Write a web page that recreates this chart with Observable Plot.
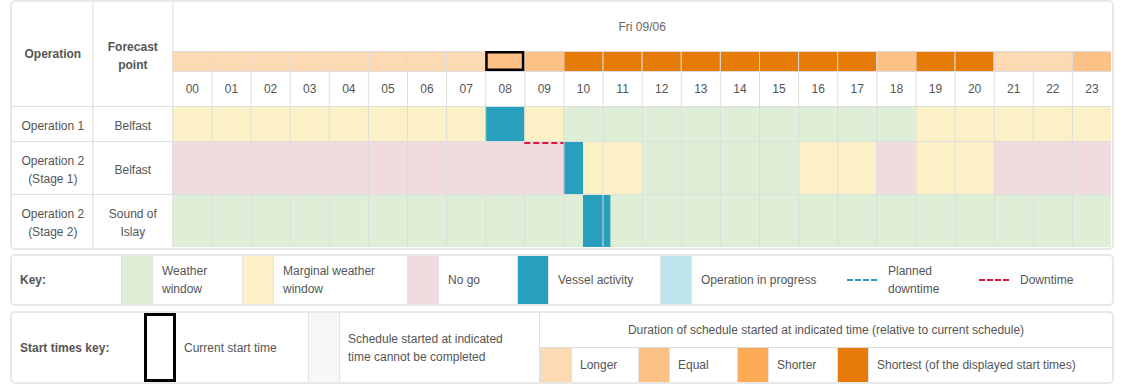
<!DOCTYPE html>
<html><head><meta charset="utf-8">
<script src="https://cdn.jsdelivr.net/npm/d3@7"></script>
<script src="https://cdn.jsdelivr.net/npm/@observablehq/plot@0.6"></script>
<style>
body{margin:0;background:#fff;font-family:"Liberation Sans",Arial,sans-serif;font-size:12px;color:#555;}
#wrap{position:relative;width:1123px;height:384px;overflow:hidden;}
.box{position:absolute;left:10px;width:1104px;box-sizing:border-box;border:2px solid #e8e8e8;border-radius:5px;overflow:hidden;background:#fff;}
.abs{position:absolute;box-sizing:border-box;}
.txt{display:flex;align-items:center;white-space:pre-line;line-height:18px;}
.sw{border-left:1px solid #e2e2e2;border-right:1px solid #e2e2e2;}
</style></head><body><div id="wrap"></div>
<script>
// ---------------- DATA ----------------
const dayLabel = "Fri 09/06";
const hourLabels = ["00","01","02","03","04","05","06","07","08","09","10","11",
                    "12","13","14","15","16","17","18","19","20","21","22","23"];
const operations = ["Operation 1", "Operation 2\n(Stage 1)", "Operation 2\n(Stage 2)"];
const forecastPoints = ["Belfast", "Belfast", "Sound of\nIslay"];
// W = weather window, M = marginal weather window, N = no go (one letter per hour)
const op1Conditions = "MMMMMMMMMMWWWWWWWWWMMMMM".split("");
const op2Stage1Conditions = "NNNNNNNNNNMMWWWWMMNMMNNN".split("");
const op2Stage2Conditions = "WWWWWWWWWWWWWWWWWWWWWWWW".split("");
const vesselActivity = [
  {row: 0, start: 8, end: 9},
  {row: 1, start: 10, end: 10.5},
  {row: 2, start: 10.5, end: 11.2}
];
const downtime = [{row: 1, start: 9, end: 10}];
const startDurations = ["Longer","Longer","Longer","Longer","Longer","Longer","Longer","Longer",
  "Equal","Equal","Shortest","Shortest","Shortest","Shortest","Shortest","Shortest","Shortest","Shortest",
  "Equal","Shortest","Shortest","Longer","Longer","Equal"];
const currentStartHour = 8;

// legend / colour keys
const conditionCodes = {W: "Weather window", M: "Marginal weather window", N: "No go"};
const keyLabels = ["Weather\nwindow", "Marginal weather\nwindow", "No go", "Vessel activity", "Operation in progress"];
const keyNames = ["Weather window", "Marginal weather window", "No go", "Vessel activity", "Operation in progress"];
const keyColors = ["#deeed7", "#fcf0c7", "#f0dcde", "#279fbd", "#bde6ef"];
const lineKeyLabels = ["Planned\ndowntime", "Downtime"];
const lineKeyColors = ["#279fbd", "#dc143c"];
const durationNames = ["Longer", "Equal", "Shorter", "Shortest"];
const durationLabels = ["Longer", "Equal", "Shorter", "Shortest (of the displayed start times)"];
const durationColors = ["#fdd9b4", "#fdc185", "#fdab56", "#e77b08"];
const cannotCompleteColor = "#f7f7f7";
const startKeyTexts = ["Current start time", "Schedule started at indicated\ntime cannot be completed"];
const durationTitle = "Duration of schedule started at indicated time (relative to current schedule)";

// ---------------- LAYOUT ----------------
const gridColor = "#dddddd", textColor = "#555";
const dateRowH = 49, bandH = 20, hourRowH = 35, linePad = 17, lineH = 18, labelColW = 80;
const yBandTop = dateRowH, yBandBot = yBandTop + bandH, yHeadBot = yBandBot + hourRowH;
const rowTops = [], rowBots = [];
let acc = yHeadBot;
operations.forEach((op, i) => {
  const n = Math.max(op.split("\n").length, forecastPoints[i].split("\n").length);
  rowTops.push(acc); acc += linePad + lineH * n; rowBots.push(acc);
});
const totalH = acc;
const conditionRows = [op1Conditions, op2Stage1Conditions, op2Stage2Conditions];
const cells = conditionRows.flatMap((codes, r) => codes.map((c, h) => ({r, h, cond: conditionCodes[c]})));
const band = startDurations.map((k, h) => ({h, k}));

const wrap = document.getElementById("wrap");
const mainBox = document.createElement("div");
mainBox.className = "box"; mainBox.style.top = "0px"; mainBox.style.height = "250px";
wrap.appendChild(mainBox);

const txt = {fontSize: 12, fill: textColor};
const chart = Plot.plot({
  width: 1123, height: 250,
  marginLeft: 12, marginRight: 12, marginTop: 2, marginBottom: 3,
  style: {fontFamily: '"Liberation Sans", Arial, sans-serif', fontSize: "12px", background: "transparent", color: textColor, maxWidth: "none"},
  x: {domain: [0, 24], range: [172.3, 1111], axis: null},
  y: {domain: [0, totalH], range: [2, 2 + totalH], axis: null},
  color: {type: "ordinal", domain: [...keyNames, ...durationNames], range: [...keyColors, ...durationColors]},
  marks: [
    Plot.rect(cells, {x1: "h", x2: d => d.h + 1, y1: d => rowTops[d.r], y2: d => rowBots[d.r], fill: "cond"}),
    Plot.rect(band, {x1: "h", x2: d => d.h + 1, y1: () => yBandTop, y2: () => yBandBot, fill: "k"}),
    Plot.rect(vesselActivity, {x1: "start", x2: "end", y1: d => rowTops[d.row], y2: d => rowBots[d.row], fill: () => "Vessel activity"}),
    // grid
    Plot.ruleX(d3.range(1, 24), {y1: () => yBandTop, y2: () => totalH, stroke: gridColor}),
    Plot.ruleX([0], {y1: () => 0, y2: () => totalH, stroke: gridColor}),
    Plot.ruleX([0], {y1: () => 0, y2: () => totalH, stroke: gridColor, dx: -labelColW}),
    Plot.ruleY([yBandTop, yBandBot], {x1: () => 0, x2: () => 24, stroke: gridColor}),
    Plot.ruleY([yHeadBot, ...rowBots.slice(0, -1)], {stroke: gridColor}),
    // current start time
    Plot.rect([currentStartHour], {x1: d => d, x2: d => d + 1, y1: () => yBandTop, y2: () => yBandBot, fill: "none", stroke: "black", strokeWidth: 2.5, inset: 1.25}),
    // downtime
    Plot.ruleY(downtime, {x1: "start", x2: "end", y: d => rowTops[d.row] + 1.5, stroke: lineKeyColors[1], strokeWidth: 2, strokeDasharray: "6,3"}),
    // texts
    Plot.text([dayLabel], {x: () => 12, y: () => dateRowH / 2, ...txt, fill: "#666"}),
    Plot.text(hourLabels, {x: (d, i) => i + 0.5, y: () => yBandBot + hourRowH / 2, ...txt}),
    Plot.text(["Operation"], {x: () => 0, y: () => yHeadBot / 2, dx: -labelColW * 1.5, ...txt, fontWeight: "bold"}),
    Plot.text(["Forecast\npoint"], {x: () => 0, y: () => yHeadBot / 2, dx: -labelColW / 2, ...txt, fontWeight: "bold", lineHeight: 1.45}),
    Plot.text(operations, {x: () => 0, y: (d, i) => (rowTops[i] + rowBots[i]) / 2, dx: -labelColW * 1.5, ...txt, lineHeight: 1.5}),
    Plot.text(forecastPoints, {x: () => 0, y: (d, i) => (rowTops[i] + rowBots[i]) / 2, dx: -labelColW / 2, ...txt, lineHeight: 1.5})
  ]
});
chart.style.position = "absolute"; chart.style.left = "-12px"; chart.style.top = "-2px";
chart.style.maxWidth = "none"; chart.style.width = "1123px"; chart.style.height = "250px";
mainBox.appendChild(chart);

// ---------------- LEGENDS (HTML) ----------------
function makeBox(top, height) {
  const b = document.createElement("div");
  b.className = "box"; b.style.top = top + "px"; b.style.height = height + "px";
  b._top = top; wrap.appendChild(b); return b;
}
function put(box, cls, x, y, w, h, css = {}, text = "") {
  const e = document.createElement("div");
  e.className = "abs " + cls;
  e.style.left = (x - 12) + "px"; e.style.top = (y - box._top - 2) + "px";
  e.style.width = w + "px"; e.style.height = h + "px";
  Object.assign(e.style, css);
  if (text) e.textContent = text;
  box.appendChild(e); return e;
}
// Key box
const keyBox = makeBox(254, 52);
const kTop = 256, kH = 48;
put(keyBox, "txt", 20, kTop, 90, kH, {fontWeight: "bold"}, "Key:");
const keySwatchX = [121, 242, 407, 517, 660];
keyNames.forEach((n, i) => {
  put(keyBox, "sw", keySwatchX[i], kTop, 32, kH, {background: keyColors[i]});
  put(keyBox, "txt", keySwatchX[i] + 41, kTop, 130, kH, {}, keyLabels[i]);
});
const lineKeyX = [847, 979];
lineKeyLabels.forEach((l, i) => {
  put(keyBox, "", lineKeyX[i], kTop + 23, 30, 2, {borderTop: "2px dashed " + lineKeyColors[i]});
  put(keyBox, "txt", lineKeyX[i] + 41, kTop, 90, kH, {}, l);
});
// Start times key box
const sBox = makeBox(311, 73);
const sTop = 313, sH = 69;
put(sBox, "txt", 20, sTop, 120, sH, {fontWeight: "bold"}, "Start times key:");
put(sBox, "", 143.5, sTop, 32, sH, {border: "3px solid #000"});
put(sBox, "txt", 184, sTop, 120, sH, {}, startKeyTexts[0]);
put(sBox, "sw", 308, sTop, 32, sH, {background: cannotCompleteColor});
put(sBox, "txt", 348, sTop, 190, sH, {}, startKeyTexts[1]);
put(sBox, "", 539, sTop, 1, sH, {background: gridColor});
put(sBox, "txt", 540, sTop, 572, 34, {justifyContent: "center"}, durationTitle);
put(sBox, "", 540, sTop + 34, 572, 1, {background: gridColor});
const durSwatchX = [540, 638, 737, 837];
durationNames.forEach((n, i) => {
  put(sBox, "sw", durSwatchX[i], sTop + 35, 32, sH - 35, {background: durationColors[i]});
  put(sBox, "txt", durSwatchX[i] + 40, sTop + 35, 240, sH - 35, {}, durationLabels[i]);
});
</script></body></html>
